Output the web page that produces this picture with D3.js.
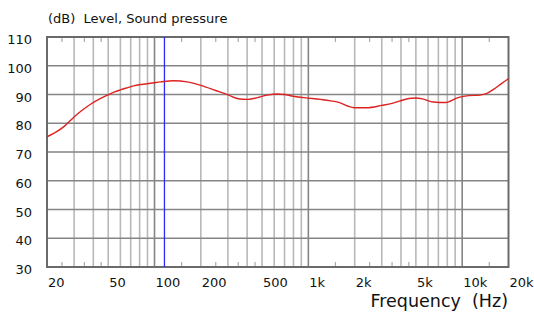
<!DOCTYPE html>
<html>
<head>
  <title>Sound pressure level</title>
  <script src="https://d3js.org/d3.v7.min.js"></script>
  <style>
    body { margin: 0; background: #fff; }
    text { font-family: "DejaVu Sans", Verdana, sans-serif; fill: #111; }
  </style>
</head>
<body>
  <div id="chart"></div>

  <script>
    // measured response (Hz, dB)
    const freqs = [20, 23, 26, 30, 34, 38.6, 44, 49.5, 55, 60, 67, 73, 82, 94, 110, 133, 163, 200,
      250, 300, 350, 400, 450, 540, 630, 700, 780, 940, 1200, 1400, 1600, 1800, 2000, 2400, 3000,
      3500, 3900, 4500, 5000, 5500, 6500, 7800, 9400, 11000, 13000, 14500, 16000, 18000, 20000];
    const levels = [75.3, 77.0, 79.0, 82.2, 84.6, 86.7, 88.5, 89.8, 90.9, 91.6, 92.4, 93.0, 93.5, 93.9, 94.4, 94.8, 94.4, 93.2,
      91.4, 89.9, 88.5, 88.3, 88.7, 89.8, 90.2, 90.0, 89.5, 88.9, 88.3, 87.8, 87.2, 86.0, 85.4, 85.4, 86.2,
      86.9, 87.7, 88.6, 88.8, 88.5, 87.4, 87.2, 88.9, 89.6, 89.8, 90.4, 91.8, 93.8, 95.5];

    const yTicks = [30, 40, 50, 60, 70, 80, 90, 100, 110];
    const xLabels = [20, 50, 100, 200, 500, 1000, 2000, 5000, 10000, 20000];
    const xLabelText = ["20", "50", "100", "200", "500", "1k", "2k", "5k", "10k", "20k"];
    const decades = [100, 1000, 10000];
    const minorFreqs = [30, 40, 50, 60, 70, 80, 90, 200, 300, 400, 500, 600, 700, 800, 900,
      2000, 3000, 4000, 5000, 6000, 7000, 8000, 9000];
    const halfTicks = [25, 35, 45, 150, 250, 350, 450, 1500, 2500, 3500, 4500, 15000];
    const markerFreq = 116;

    const W = 534, H = 318;
    const plotL = 47, plotR = 508.5, plotT = 37, plotB = 267;

    const svg = d3.select("#chart").append("svg")
      .attr("width", W).attr("height", H);

    const x = d3.scaleLog().domain([20, 20000]).range([plotL, plotR]);
    const y = d3.scaleLinear().domain([30, 110]).range([plotB, plotT]);

    // vertical grid
    svg.selectAll(".minor").data(minorFreqs).enter().append("line")
      .attr("x1", d => x(d)).attr("x2", d => x(d))
      .attr("y1", plotT).attr("y2", plotB)
      .attr("stroke", "#b8b8b8").attr("stroke-width", 1.6);

    svg.selectAll(".decade").data(decades).enter().append("line")
      .attr("x1", d => x(d)).attr("x2", d => x(d))
      .attr("y1", plotT).attr("y2", plotB)
      .attr("stroke", "#858585").attr("stroke-width", 1.6);

    // horizontal grid
    svg.selectAll(".hgrid").data(yTicks.slice(1, -1)).enter().append("line")
      .attr("x1", plotL).attr("x2", plotR)
      .attr("y1", d => y(d)).attr("y2", d => y(d))
      .attr("stroke", "#858585").attr("stroke-width", 1.6);

    // small ticks at top and bottom edges
    svg.selectAll(".tb").data(halfTicks).enter().append("line")
      .attr("x1", d => x(d)).attr("x2", d => x(d))
      .attr("y1", plotB - 5).attr("y2", plotB)
      .attr("stroke", "#aaa").attr("stroke-width", 1.2);
    svg.selectAll(".tt").data(halfTicks).enter().append("line")
      .attr("x1", d => x(d)).attr("x2", d => x(d))
      .attr("y1", plotT).attr("y2", plotT + 5)
      .attr("stroke", "#aaa").attr("stroke-width", 1.2);

    // frame
    svg.append("rect")
      .attr("x", plotL).attr("y", plotT)
      .attr("width", plotR - plotL).attr("height", plotB - plotT)
      .attr("fill", "none").attr("stroke", "#6a6a6a").attr("stroke-width", 2);

    // marker line
    svg.append("line")
      .attr("x1", x(markerFreq)).attr("x2", x(markerFreq))
      .attr("y1", plotT).attr("y2", plotB)
      .attr("stroke", "#2a2aff").attr("stroke-width", 1.3);

    // response curve
    const line = d3.line()
      .x((d, i) => x(freqs[i]))
      .y(d => y(d))
      .curve(d3.curveMonotoneX);

    svg.append("path")
      .datum(levels)
      .attr("d", line)
      .attr("fill", "none")
      .attr("stroke", "#dd2222")
      .attr("stroke-width", 1.4);

    // y labels
    svg.selectAll(".ylab").data(yTicks).enter().append("text")
      .attr("x", 32).attr("y", d => y(d) + 7)
      .attr("text-anchor", "end")
      .style("font-size", "13px")
      .text(d => d);

    // x labels
    svg.selectAll(".xlab").data(xLabels).enter().append("text")
      .attr("x", d => x(d) + 1).attr("y", 287)
      .style("font-size", "13px")
      .text((d, i) => xLabelText[i]);

    svg.append("text")
      .attr("x", 48).attr("y", 23)
      .style("font-size", "13px")
      .style("white-space", "pre")
      .text("(dB)  Level, Sound pressure");

    svg.append("text")
      .attr("x", 508).attr("y", 307)
      .attr("text-anchor", "end")
      .style("font-size", "17.5px")
      .style("white-space", "pre")
      .text("Frequency  (Hz)");
  </script>
</body>
</html>
